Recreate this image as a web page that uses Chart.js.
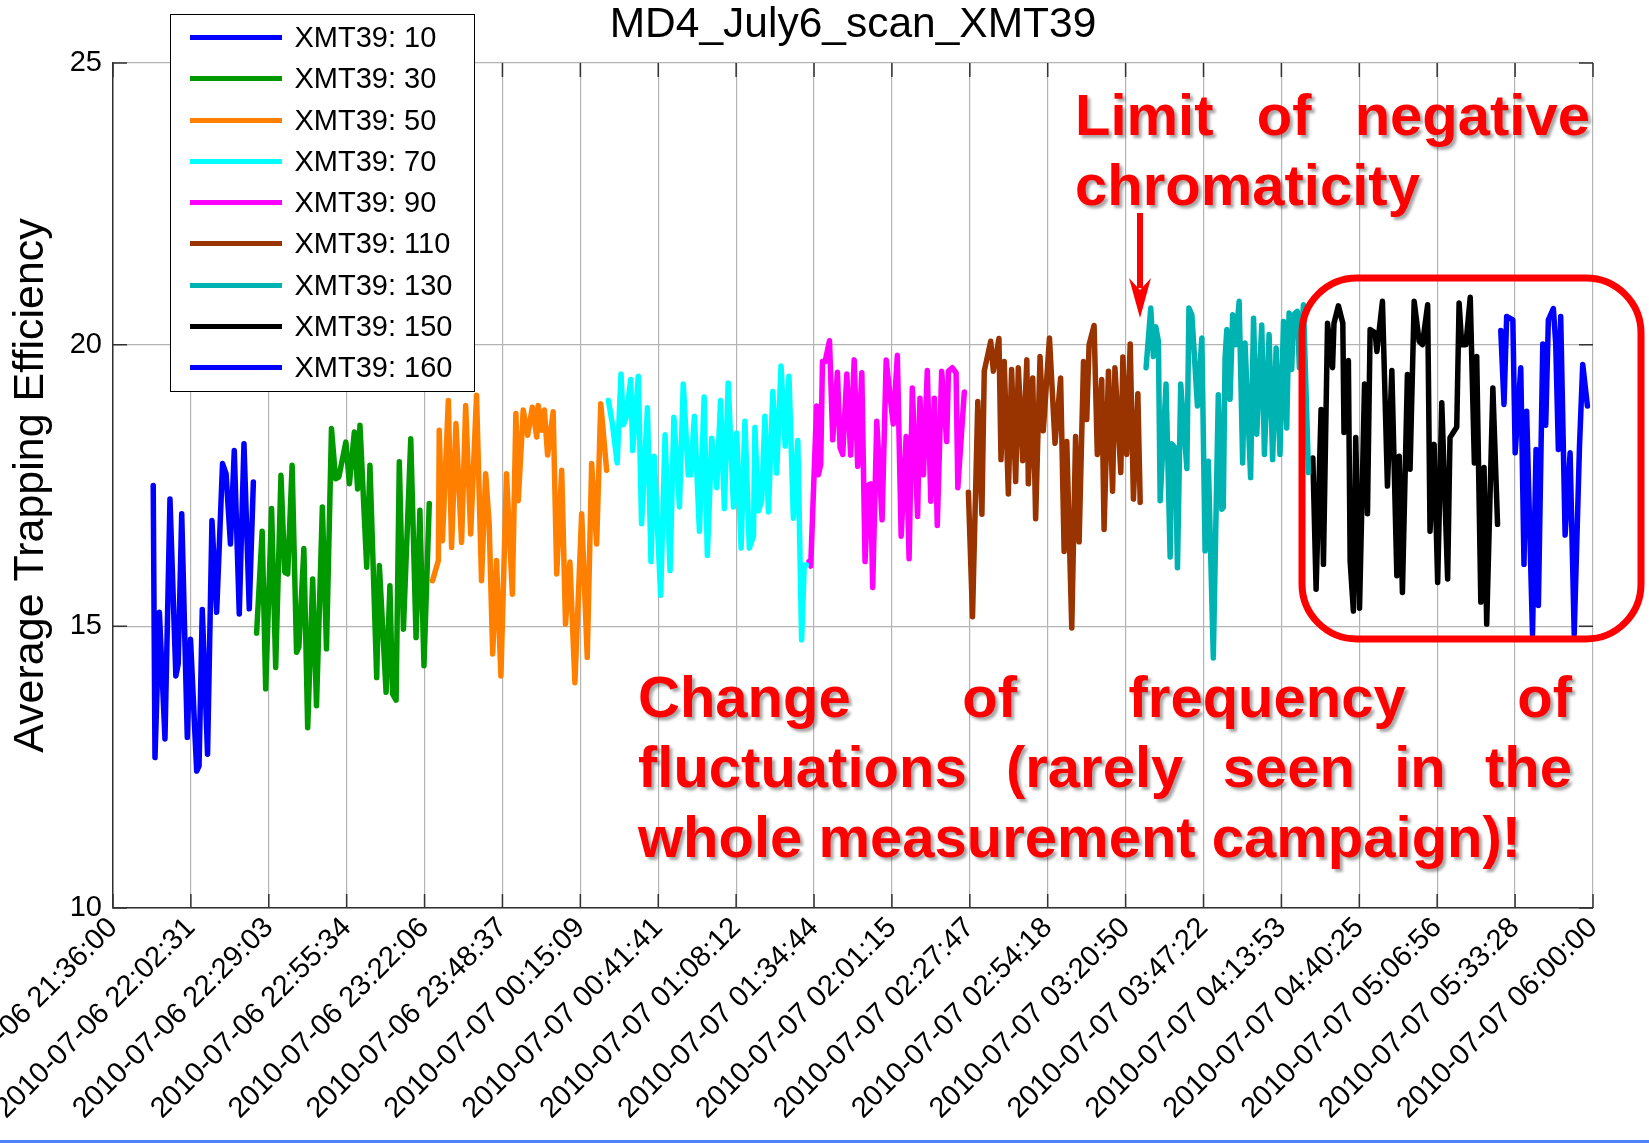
<!DOCTYPE html>
<html><head><meta charset="utf-8">
<script src="https://cdn.jsdelivr.net/npm/chart.js@4.4.1/dist/chart.umd.min.js"></script>
<style>
html,body{margin:0;padding:0;background:#fff;overflow:hidden;}
#wrap{position:relative;width:1649px;height:1143px;overflow:hidden;background:#fff;}
#c{position:absolute;left:0;top:0;}
svg{position:absolute;left:0;top:0;pointer-events:none;}
.note{position:absolute;font-family:'Liberation Sans',Arial,sans-serif;font-weight:bold;font-size:58px;line-height:70px;color:#ff0000;text-align:justify;text-shadow:3px 3px 3px rgba(0,0,0,0.35);}
#legend{position:absolute;left:170px;top:14px;width:305px;height:378px;border:1.5px solid #000;background:#fff;box-sizing:border-box;padding-top:2px;}
.li{height:41.3px;position:relative;font-family:'Liberation Sans',Arial,sans-serif;font-size:29px;color:#000;}
.li .sw{position:absolute;left:18.5px;top:18px;width:92px;height:5px;}
.li .tx{position:absolute;left:123.5px;top:0;line-height:41.3px;white-space:nowrap;}
#bline{position:absolute;left:0;top:1140px;width:1649px;height:3px;background:#4f81f7;}
</style></head>
<body>
<div id="wrap">
<canvas id="c" width="1649" height="1143"></canvas>
<svg width="1649" height="1143">
  <rect x="1302" y="278" width="339" height="361" rx="55" ry="55" fill="none" stroke="#ff0000" stroke-width="7"/>
  <line x1="1140" y1="213" x2="1140" y2="288" stroke="#ff0000" stroke-width="6"/>
  <polygon points="1129,278 1140,290 1151,278 1140,318" fill="#ff0000"/>
</svg>
<div class="note" style="left:1075px;top:80px;width:515px;">Limit of negative chromaticity</div>
<div class="note" style="left:638px;top:662px;width:934px;">Change of frequency of fluctuations (rarely seen in the whole measurement campaign)!</div>
<div id="legend"></div>
<div id="bline"></div>
</div>
<script>
// ---- data (time in minutes after 2010-07-06 21:36:00) ----
const xTickLabels = ["2010-07-06 21:36:00","2010-07-06 22:02:31","2010-07-06 22:29:03","2010-07-06 22:55:34","2010-07-06 23:22:06","2010-07-06 23:48:37","2010-07-07 00:15:09","2010-07-07 00:41:41","2010-07-07 01:08:12","2010-07-07 01:34:44","2010-07-07 02:01:15","2010-07-07 02:27:47","2010-07-07 02:54:18","2010-07-07 03:20:50","2010-07-07 03:47:22","2010-07-07 04:13:53","2010-07-07 04:40:25","2010-07-07 05:06:56","2010-07-07 05:33:28","2010-07-07 06:00:00"];
const yTicks = [10, 15, 20, 25];

const seriesNames = ["XMT39: 10","XMT39: 30","XMT39: 50","XMT39: 70","XMT39: 90","XMT39: 110","XMT39: 130","XMT39: 150","XMT39: 160"];
const seriesColors = ["#0000ff","#009900","#ff8000","#00ffff","#ff00ff","#993300","#00b3b3","#000000","#0000ff"];

const t10 = [13.7,14.3,15.8,17.7,19.4,21.4,22.2,23.4,25.3,26.4,28.5,29.3,30.4,32.2,33.7,35.3,37.3,38.5,40.0,41.3,43.0,44.6,46.4,47.8];
const v10 = [17.50,12.67,15.25,13.00,17.26,14.12,14.33,17.00,13.03,14.77,12.43,12.52,15.30,12.73,16.88,15.25,17.89,17.71,16.46,18.12,15.22,18.24,15.31,17.56];

const t30 = [48.9,50.8,52.0,54.0,55.4,57.2,58.5,59.5,61.0,62.5,63.3,65.0,66.3,68.0,69.3,71.3,72.7,74.4,75.8,76.9,79.3,80.5,82.2,83.3,84.1,86.4,87.5,89.8,90.7,93.0,94.3,95.2,96.4,97.5,98.9,101.4,103.2,104.5,105.9,107.7];
const v30 = [14.88,16.69,13.89,17.09,14.27,17.68,15.96,15.93,17.86,14.54,14.63,16.38,13.20,15.84,13.59,17.12,14.60,18.51,17.62,17.65,18.27,17.53,18.45,17.44,18.57,16.05,17.86,14.09,16.08,13.83,15.72,13.80,13.69,17.92,14.95,18.33,14.80,17.06,14.30,17.18];

const t50 = [108.8,110.8,111.1,112.2,114.2,115.3,116.8,118.7,120.1,121.8,123.8,125.5,126.9,128.1,129.3,130.6,132.1,134.0,136.0,137.2,138.0,139.7,141.2,142.8,144.3,144.8,146.0,146.9,148.0,149.9,151.1,152.8,154.1,155.6,157.3,159.6,161.5,163.0,164.7,166.1,168.1];
const v50 = [15.81,16.17,18.48,16.52,19.01,16.40,18.60,16.49,18.92,16.64,19.10,15.81,17.71,16.82,14.51,16.17,14.12,17.71,15.57,18.78,17.23,18.84,18.39,18.89,18.36,18.92,18.48,18.84,18.04,18.81,15.93,17.77,15.04,16.14,14.00,17.00,14.45,17.89,16.46,18.95,17.77];

const t70 = [168.7,170.1,171.7,173.0,173.8,174.7,176.3,177.0,178.9,180.0,182.0,183.2,184.3,186.5,188.0,189.7,191.0,192.9,194.2,195.9,196.7,198.0,199.7,201.3,202.4,203.9,205.6,206.9,208.2,209.5,211.3,212.4,213.9,215.2,216.7,218.1,218.6,219.8,220.9,222.0,223.2,224.7,226.0,227.5,228.9,230.2,231.7,233.2,234.5,235.4,236.2];
const v70 = [19.01,18.58,17.90,19.48,18.58,18.70,19.38,18.12,19.44,16.82,18.88,16.15,18.02,15.55,18.40,15.99,18.71,17.12,19.30,17.69,17.69,18.73,16.69,19.07,16.26,18.34,17.46,19.01,17.09,19.32,17.12,18.43,16.39,18.64,16.39,16.60,18.53,17.05,17.23,18.73,17.03,19.17,17.72,19.62,18.20,19.44,16.92,18.30,14.76,16.09,16.09];

const t90 = [237.0,237.6,239.6,240.2,241.0,241.6,242.5,244.0,245.1,246.7,247.6,248.5,249.9,251.2,252.4,253.6,255.0,256.1,257.3,258.0,258.7,260.1,261.9,263.3,264.2,265.7,267.1,268.4,270.1,271.1,272.2,274.0,274.8,276.0,277.3,278.5,279.7,280.7,282.2,283.9,284.5,285.8,287.1,287.7,289.9];
const v90 = [16.15,16.07,18.91,17.69,17.87,19.70,19.70,20.07,18.31,19.51,18.17,18.05,19.48,18.04,19.73,17.84,19.50,16.15,17.51,17.53,15.69,18.64,16.89,19.73,19.29,18.59,19.81,16.60,18.37,16.20,19.23,16.95,19.05,17.69,19.54,17.22,19.05,16.79,19.53,18.28,19.53,19.59,19.50,17.46,19.16];

const t110 = [291.3,292.7,294.5,295.9,296.7,298.9,299.8,301.7,302.4,303.5,304.9,306.0,307.4,308.3,309.8,311.2,311.7,313.2,314.2,315.7,316.8,318.9,320.8,322.7,323.9,324.8,326.5,327.8,329.0,330.5,331.6,332.4,334.1,335.2,336.7,337.5,339.0,340.4,341.2,343.2,343.9,345.2,346.4,347.5,349.0,349.8];
const v110 = [17.38,15.17,18.99,16.99,19.53,20.06,19.53,20.11,17.96,19.70,17.35,19.56,17.57,19.59,17.94,19.73,17.53,19.41,16.91,19.79,18.47,20.12,18.25,19.41,16.33,18.28,14.97,18.37,16.50,19.70,18.67,20.00,20.34,18.05,19.38,16.72,19.53,17.40,19.59,17.73,19.78,18.05,20.01,17.26,19.13,17.20];

const t130 = [351.8,353.4,354.3,355.1,356.0,356.6,358.6,360.0,360.5,361.7,362.5,363.6,365.7,366.4,367.4,369.3,370.8,371.9,373.0,374.7,376.4,377.6,378.1,378.7,379.3,380.4,381.3,382.3,383.5,384.7,385.5,387.4,388.4,389.5,391.2,392.1,393.7,394.9,396.1,397.4,398.6,399.7,400.5,401.4,402.0,403.3,404.0,405.4,407.1];
const v130 = [19.59,20.65,19.79,20.32,20.06,17.23,19.30,16.23,18.24,18.17,16.04,19.30,17.80,20.65,20.53,18.91,20.12,16.34,17.93,14.44,19.11,17.08,17.11,19.76,20.27,19.03,20.53,20.00,20.77,17.90,20.03,17.64,20.47,18.41,20.35,18.05,20.18,17.96,19.94,18.05,20.41,18.52,20.56,19.56,20.53,20.59,19.59,20.71,17.73];

const t150 = [408.6,409.7,411.4,412.2,413.6,415.3,415.8,417.3,418.8,419.2,420.7,421.3,422.4,423.2,424.5,426.2,427.2,428.1,429.8,430.4,432.3,434.0,435.5,437.2,438.0,439.1,440.8,441.7,443.1,444.8,445.9,447.7,448.5,449.9,451.1,452.5,454.5,455.3,457.6,458.4,459.3,460.7,462.2,463.6,464.4,465.8,466.9,467.8,469.9,471.5];
const v150 = [17.99,15.66,18.85,16.10,20.38,19.59,20.38,20.69,20.38,18.44,19.72,16.16,15.27,18.35,15.32,19.30,17.00,20.27,20.21,19.88,20.77,17.49,19.54,15.90,18.02,15.60,19.47,17.79,20.77,20.06,20.00,20.71,16.69,18.23,15.78,18.97,15.84,18.35,18.54,20.74,20.00,20.00,20.84,17.90,19.79,15.43,17.82,15.04,19.23,16.81];

const t160 = [472.6,473.7,474.6,476.7,477.5,479.4,480.5,481.4,483.4,484.6,485.4,486.9,487.9,488.8,490.5,491.3,492.2,493.0,494.5,496.2,497.6,499.4,500.5,502.1];
const v160 = [20.25,18.94,20.50,20.44,18.08,19.59,16.10,18.82,14.86,18.14,15.37,20.01,18.57,20.44,20.64,20.03,18.14,20.50,16.62,18.08,14.86,18.20,19.65,18.91];

const seriesTimes = [t10,t30,t50,t70,t90,t110,t130,t150,t160];
const seriesValues = [v10,v30,v50,v70,v90,v110,v130,v150,v160];

// ---- tick positions derived from the tick label strings ----
function minutesOf(label){
  const d = parseInt(label.slice(8,10),10), h = parseInt(label.slice(11,13),10),
        m = parseInt(label.slice(14,16),10), s = parseInt(label.slice(17,19),10);
  return ((d - 6) * 24 * 60 + h * 60 + m + s / 60) - (21 * 60 + 36);
}
const xTickValues = xTickLabels.map(minutesOf);

Chart.defaults.font.family = "'Liberation Sans', Arial, sans-serif";
Chart.defaults.color = '#000';

const datasets = seriesNames.map((name, i) => ({
  label: name,
  data: seriesTimes[i].map((t, j) => ({x: t, y: seriesValues[i][j]})),
  borderColor: seriesColors[i],
  backgroundColor: seriesColors[i],
  borderWidth: 5.5,
  pointRadius: 0,
  tension: 0,
  fill: false,
  borderJoinStyle: 'round',
  borderCapStyle: 'round'
}));

const innerTicks = {
  id: 'innerTicks',
  beforeDatasetsDraw(chart){
    const {ctx, chartArea: a, scales: {x, y}} = chart;
    ctx.save();
    ctx.strokeStyle = '#333';
    ctx.lineWidth = 1.5;
    ctx.beginPath();
    x.ticks.forEach(t => {
      const px = x.getPixelForValue(t.value);
      ctx.moveTo(px, a.bottom); ctx.lineTo(px, a.bottom - 14);
      ctx.moveTo(px, a.top); ctx.lineTo(px, a.top + 14);
    });
    y.ticks.forEach(t => {
      const py = y.getPixelForValue(t.value);
      ctx.moveTo(a.left, py); ctx.lineTo(a.left + 14, py);
      ctx.moveTo(a.right, py); ctx.lineTo(a.right - 14, py);
    });
    ctx.stroke();
    ctx.restore();
  }
};

new Chart(document.getElementById('c'), {
  type: 'line',
  data: {datasets},
  plugins: [innerTicks],
  options: {
    responsive: false,
    animation: false,
    devicePixelRatio: 1,
    layout: {padding: {left: 0, right: 56, top: 0, bottom: 0}},
    plugins: {
      legend: {display: false},
      tooltip: {enabled: false},
      title: {
        display: true,
        text: 'MD4_July6_scan_XMT39',
        fullSize: false,
        color: '#000',
        font: {size: 42.5, weight: 'normal'},
        padding: {top: 0, bottom: 12}
      }
    },
    scales: {
      x: {
        type: 'linear',
        min: xTickValues[0],
        max: xTickValues[xTickValues.length - 1],
        afterBuildTicks: s => { s.ticks = xTickValues.map(v => ({value: v})); },
        ticks: {
          autoSkip: false, maxRotation: 45, minRotation: 45,
          font: {size: 29}, color: '#000', padding: 3,
          callback: (v, i) => xTickLabels[i]
        },
        grid: {color: '#b4b4b4', lineWidth: 1.2, drawTicks: false},
        border: {color: '#303030', width: 1.5},
        afterFit: s => { s.height = 235; s.paddingLeft = 0; s.paddingRight = 0; }
      },
      y: {
        min: 10, max: 25,
        afterBuildTicks: s => { s.ticks = yTicks.map(v => ({value: v})); },
        ticks: {font: {size: 29}, color: '#000', padding: 11},
        grid: {color: '#b4b4b4', lineWidth: 1.2, drawTicks: false},
        border: {color: '#303030', width: 1.5},
        title: {display: true, text: 'Average Trapping Efficiency', color: '#000',
                font: {size: 43}, padding: {top: 5, bottom: 0}},
        afterFit: s => { s.width = 113; }
      }
    }
  }
});

// HTML legend built from the dataset arrays
const leg = document.getElementById('legend');
seriesNames.forEach((n, i) => {
  const row = document.createElement('div');
  row.className = 'li';
  row.innerHTML = '<span class="sw" style="background:' + seriesColors[i] + '"></span><span class="tx">' + n + '</span>';
  leg.appendChild(row);
});
</script>
</body></html>
